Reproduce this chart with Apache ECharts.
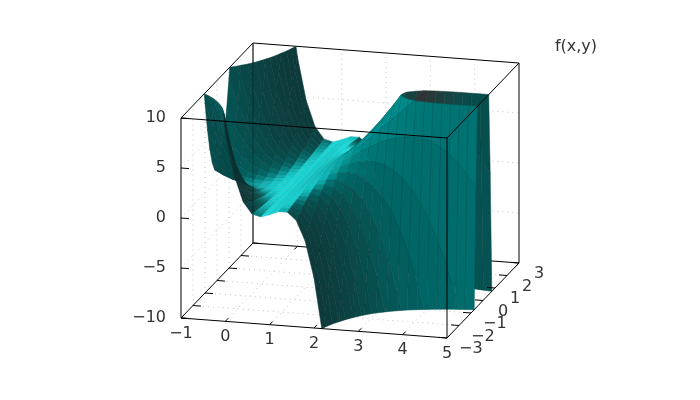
<!DOCTYPE html>
<html>
<head>
<meta charset="utf-8">
<style>html,body{margin:0;padding:0;background:#fff}#c{width:700px;height:400px}</style>
<script src="https://cdn.jsdelivr.net/npm/echarts@6/dist/echarts.min.js"></script>
</head>
<body>
<div id="c"></div>
<script>
const xValues = [-1,-0.8,-0.6,-0.4,-0.2,0,0.2,0.4,0.6,0.8,1,1.2,1.4,1.6,1.8,2,2.2,2.4,2.6,2.8,3,3.2,3.4,3.6,3.8,4,4.2,4.4,4.6,4.8,5];
const yValues = [-3,-2.8,-2.6,-2.4,-2.2,-2,-1.8,-1.6,-1.4,-1.2,-1,-0.8,-0.6,-0.4,-0.2,0,0.2,0.4,0.6,0.8,1,1.2,1.4,1.6,1.8,2,2.2,2.4,2.6,2.8,3];
const zValues = [
[73,63.72,55.08,47.08,39.72,33,26.92,21.48,16.68,12.52,9,6.12,3.88,2.28,1.32,1,1.32,2.28,3.88,6.12,9,12.52,16.68,21.48,26.92,33,39.72,47.08,55.08,63.72,73],
[53.13,46.36,40.06,34.23,28.87,23.97,19.54,15.57,12.07,9.04,6.47,4.37,2.74,1.57,0.87,0.64,0.87,1.57,2.74,4.37,6.47,9.04,12.07,15.57,19.54,23.97,28.87,34.23,40.06,46.36,53.13],
[37.22,32.47,28.05,23.95,20.19,16.74,13.63,10.85,8.39,6.26,4.46,2.98,1.83,1.02,0.52,0.36,0.52,1.02,1.83,2.98,4.46,6.26,8.39,10.85,13.63,16.74,20.19,23.95,28.05,32.47,37.22],
[24.86,21.67,18.71,15.97,13.44,11.14,9.05,7.18,5.54,4.11,2.9,1.92,1.15,0.6,0.27,0.16,0.27,0.6,1.15,1.92,2.9,4.11,5.54,7.18,9.05,11.14,13.44,15.97,18.71,21.67,24.86],
[15.59,13.59,11.72,9.99,8.4,6.95,5.64,4.46,3.43,2.53,1.77,1.15,0.66,0.32,0.11,0.04,0.11,0.32,0.66,1.15,1.77,2.53,3.43,4.46,5.64,6.95,8.4,9.99,11.72,13.59,15.59],
[9,7.84,6.76,5.76,4.84,4,3.24,2.56,1.96,1.44,1,0.64,0.36,0.16,0.04,0,0.04,0.16,0.36,0.64,1,1.44,1.96,2.56,3.24,4,4.84,5.76,6.76,7.84,9],
[4.65,4.05,3.5,2.99,2.52,2.09,1.7,1.35,1.04,0.78,0.55,0.37,0.22,0.12,0.06,0.04,0.06,0.12,0.22,0.37,0.55,0.78,1.04,1.35,1.7,2.09,2.52,2.99,3.5,4.05,4.65],
[2.1,1.85,1.62,1.4,1.21,1.02,0.86,0.71,0.58,0.47,0.38,0.3,0.24,0.19,0.17,0.16,0.17,0.19,0.24,0.3,0.38,0.47,0.58,0.71,0.86,1.02,1.21,1.4,1.62,1.85,2.1],
[0.94,0.86,0.79,0.73,0.67,0.62,0.57,0.52,0.49,0.45,0.42,0.4,0.38,0.37,0.36,0.36,0.36,0.37,0.38,0.4,0.42,0.45,0.49,0.52,0.57,0.62,0.67,0.73,0.79,0.86,0.94],
[0.71,0.7,0.69,0.69,0.68,0.67,0.67,0.66,0.66,0.65,0.65,0.65,0.64,0.64,0.64,0.64,0.64,0.64,0.64,0.65,0.65,0.65,0.66,0.66,0.67,0.67,0.68,0.69,0.69,0.7,0.71],
[1,1,1,1,1,1,1,1,1,1,1,1,1,1,1,1,1,1,1,1,1,1,1,1,1,1,1,1,1,1,1],
[1.37,1.38,1.39,1.39,1.4,1.41,1.41,1.42,1.42,1.43,1.43,1.43,1.44,1.44,1.44,1.44,1.44,1.44,1.44,1.43,1.43,1.43,1.42,1.42,1.41,1.41,1.4,1.39,1.39,1.38,1.37],
[1.38,1.46,1.53,1.59,1.65,1.7,1.75,1.8,1.83,1.87,1.9,1.92,1.94,1.95,1.96,1.96,1.96,1.95,1.94,1.92,1.9,1.87,1.83,1.8,1.75,1.7,1.65,1.59,1.53,1.46,1.38],
[0.62,0.87,1.1,1.32,1.51,1.7,1.86,2.01,2.14,2.25,2.34,2.42,2.48,2.53,2.55,2.56,2.55,2.53,2.48,2.42,2.34,2.25,2.14,2.01,1.86,1.7,1.51,1.32,1.1,0.87,0.62],
[-1.37,-0.77,-0.22,0.29,0.76,1.19,1.58,1.93,2.24,2.5,2.73,2.91,3.06,3.16,3.22,3.24,3.22,3.16,3.06,2.91,2.73,2.5,2.24,1.93,1.58,1.19,0.76,0.29,-0.22,-0.77,-1.37],
[-5,-3.84,-2.76,-1.76,-0.84,0,0.76,1.44,2.04,2.56,3,3.36,3.64,3.84,3.96,4,3.96,3.84,3.64,3.36,3,2.56,2.04,1.44,0.76,0,-0.84,-1.76,-2.76,-3.84,-5],
[-10.71,-8.71,-6.84,-5.11,-3.52,-2.07,-0.76,0.42,1.45,2.35,3.11,3.73,4.22,4.56,4.77,4.84,4.77,4.56,4.22,3.73,3.11,2.35,1.45,0.42,-0.76,-2.07,-3.52,-5.11,-6.84,-8.71,-10.71],
[-18.94,-15.75,-12.79,-10.05,-7.52,-5.22,-3.13,-1.26,0.38,1.81,3.02,4,4.77,5.32,5.65,5.76,5.65,5.32,4.77,4,3.02,1.81,0.38,-1.26,-3.13,-5.22,-7.52,-10.05,-12.79,-15.75,-18.94],
[-30.1,-25.35,-20.93,-16.83,-13.06,-9.62,-6.51,-3.73,-1.27,0.86,2.66,4.14,5.29,6.1,6.6,6.76,6.6,6.1,5.29,4.14,2.66,0.86,-1.27,-3.73,-6.51,-9.62,-13.06,-16.83,-20.93,-25.35,-30.1],
[-44.65,-37.88,-31.58,-25.75,-20.39,-15.49,-11.06,-7.09,-3.59,-0.56,2.01,4.11,5.74,6.91,7.61,7.84,7.61,6.91,5.74,4.11,2.01,-0.56,-3.59,-7.09,-11.06,-15.49,-20.39,-25.75,-31.58,-37.88,-44.65],
[-63,-53.72,-45.08,-37.08,-29.72,-23,-16.92,-11.48,-6.68,-2.52,1,3.88,6.12,7.72,8.68,9,8.68,7.72,6.12,3.88,1,-2.52,-6.68,-11.48,-16.92,-23,-29.72,-37.08,-45.08,-53.72,-63],
[-85.59,-73.24,-61.74,-51.09,-41.3,-32.35,-24.26,-17.02,-10.63,-5.09,-0.41,3.43,6.41,8.54,9.81,10.24,9.81,8.54,6.41,3.43,-0.41,-5.09,-10.63,-17.02,-24.26,-32.35,-41.3,-51.09,-61.74,-73.24,-85.59],
[-112.9,-96.8,-81.9,-68.1,-55.4,-43.7,-33.2,-23.8,-15.54,-8.35,-2.26,2.71,6.58,9.35,11.01,11.56,11.01,9.35,6.58,2.71,-2.26,-8.35,-15.54,-23.8,-33.2,-43.7,-55.4,-68.1,-81.9,-96.8,-112.9],
[-145.2,-124.8,-105.9,-88.3,-72.1,-57.3,-44,-32,-21.49,-12.35,-4.62,1.71,6.63,10.15,12.26,12.96,12.26,10.15,6.63,1.71,-4.62,-12.35,-21.49,-32,-44,-57.3,-72.1,-88.3,-105.9,-124.8,-145.2],
[-183.1,-157.7,-134,-112,-91.8,-73.4,-56.7,-41.8,-28.59,-17.17,-7.51,0.39,6.54,10.93,13.56,14.44,13.56,10.93,6.54,0.39,-7.51,-17.17,-28.59,-41.8,-56.7,-73.4,-91.8,-112,-134,-157.7,-183.1],
[-227,-195.7,-166.5,-139.5,-114.7,-92,-71.5,-53.1,-36.92,-22.88,-11,-1.28,6.28,11.68,14.92,16,14.92,11.68,6.28,-1.28,-11,-22.88,-36.92,-53.1,-71.5,-92,-114.7,-139.5,-166.5,-195.7,-227],
[-277.3,-239.3,-203.9,-171.1,-141,-113.4,-88.5,-66.3,-46.59,-29.55,-15.13,-3.33,5.84,12.4,16.33,17.64,16.33,12.4,5.84,-3.33,-15.13,-29.55,-46.59,-66.3,-88.5,-113.4,-141,-171.1,-203.9,-239.3,-277.3],
[-334.4,-288.8,-246.3,-207,-170.9,-137.9,-108,-81.3,-57.68,-37.24,-19.94,-5.79,5.21,13.07,17.79,19.36,17.79,13.07,5.21,-5.79,-19.94,-37.24,-57.68,-81.3,-108,-137.9,-170.9,-207,-246.3,-288.8,-334.4],
[-398.7,-344.6,-294.2,-247.6,-204.7,-165.5,-130,-98.3,-70.28,-46.02,-25.5,-8.7,4.36,13.69,19.29,21.16,19.29,13.69,4.36,-8.7,-25.5,-46.02,-70.28,-98.3,-130,-165.5,-204.7,-247.6,-294.2,-344.6,-398.7],
[-470.8,-407.2,-347.9,-293,-242.5,-196.5,-154.7,-117.4,-84.51,-55.98,-31.83,-12.08,3.29,14.26,20.85,23.04,20.85,14.26,3.29,-12.08,-31.83,-55.98,-84.51,-117.4,-154.7,-196.5,-242.5,-293,-347.9,-407.2,-470.8],
[-551,-476.8,-407.6,-343.6,-284.8,-231,-182.4,-138.8,-100.4,-67.16,-39,-15.96,1.96,14.76,22.44,25,22.44,14.76,1.96,-15.96,-39,-67.16,-100.4,-138.8,-182.4,-231,-284.8,-343.6,-407.6,-476.8,-551]
];
const xTicks = [-1,0,1,2,3,4,5];
const yTicks = [-3,-2,-1,0,1,2,3];
const zTicks = [-10,-5,0,5,10];
const xRange = [-1,5], yRange = [-3,3], zRange = [-10,10];
const axisTitle = 'f(x,y)';

const FONT = '"DejaVu Sans"';
const fmt = v => (v < 0 ? '\u2212' + (-v) : '' + v);

// orthographic box projection (screen vectors of the plot box)
const O = [181,318], VX = [266,20], VY = [72,-75], VZ = [0,-200];
const ux = v => (v[0]-xRange[0])/(xRange[1]-xRange[0]);
const uy = v => (v[1]-yRange[0])/(yRange[1]-yRange[0]);
const uz = v => (v[2]-zRange[0])/(zRange[1]-zRange[0]);
const proj = p => [O[0]+ux(p)*VX[0]+uy(p)*VY[0]+uz(p)*VZ[0], O[1]+ux(p)*VX[1]+uy(p)*VY[1]+uz(p)*VZ[1]];
// view basis in box units
const ZS = 0.755;
const U = [0.9655,0.2605,0], V = [-0.0727,0.269,0.96], W = [0.25,-0.927,0.279];
const dot = (a,b)=>a[0]*b[0]+a[1]*b[1]+a[2]*b[2];
const box = p => [ux(p),uy(p),uz(p)*ZS];
const HALF = [-0.2,0.98,0];
const clamp01 = v => Math.max(0,Math.min(1,v));

function clipZ(poly){
  let out = poly;
  for (const [lim,sgn] of [[zRange[0],1],[zRange[1],-1]]) {
    const res = [];
    for (let i=0;i<out.length;i++){
      const a = out[i], b = out[(i+1)%out.length];
      const ia = (a[2]-lim)*sgn >= 0, ib = (b[2]-lim)*sgn >= 0;
      if (ia) res.push(a);
      if (ia !== ib){
        const t = (lim-a[2])/(b[2]-a[2]);
        res.push([a[0]+t*(b[0]-a[0]),a[1]+t*(b[1]-a[1]),lim]);
      }
    }
    out = res;
    if (!out.length) break;
  }
  return out;
}
function shade(c){
  const A=box(c[0]),B=box(c[1]),C=box(c[2]),D=box(c[3]);
  const d1=[C[0]-A[0],C[1]-A[1],C[2]-A[2]], d2=[D[0]-B[0],D[1]-B[1],D[2]-B[2]];
  let n=[d1[1]*d2[2]-d1[2]*d2[1],d1[2]*d2[0]-d1[0]*d2[2],d1[0]*d2[1]-d1[1]*d2[0]];
  const len=Math.hypot(n[0],n[1],n[2])||1; n=n.map(v=>v/len);
  if (n[2]<0) n=n.map(v=>-v);
  const under = dot(n,W)<0;
  if (under) n=n.map(v=>-v);
  const nv=[dot(n,U),dot(n,V),dot(n,W)];
  const h=Math.max(0,dot(nv,HALF));
  let g = 0.40-0.2*nv[0]+0.52*Math.pow(h,10);
  let r = 0.15*Math.pow(h,14)+0.06*Math.max(nv[0],0);
  if (under) {
    const t=clamp01((-nv[1]-0.35)/0.15)*clamp01((nv[2]-0.6)/0.2);
    const k=clamp01((-nv[1]-0.15)/0.2);
    g=0.40-0.1*k-0.1*t; r=0.03*k+0.15*t;
  }
  const to=v=>Math.round(Math.min(1,v)*255);
  return {fill:'rgb('+to(r)+','+to(g)+','+to(g)+')',edge:'rgb('+to(r*0.85)+','+to(g*0.86)+','+to(g*0.86)+')'};
}
const facets=[];
for(let i=0;i<xValues.length-1;i++)for(let j=0;j<yValues.length-1;j++){
  const c=[[xValues[i],yValues[j],zValues[i][j]],[xValues[i+1],yValues[j],zValues[i+1][j]],
           [xValues[i+1],yValues[j+1],zValues[i+1][j+1]],[xValues[i],yValues[j+1],zValues[i][j+1]]];
  const poly=clipZ(c);
  if(poly.length<3)continue;
  let depth=0; for(const p of poly) depth+=dot(box(p),W); depth/=poly.length;
  facets.push({poly,depth,color:shade(c)});
}
facets.sort((a,b)=>a.depth-b.depth);

// box edges, grid lines, ticks: [from, to] in data coordinates
const [x0,x1]=xRange,[y0,y1]=yRange,[z0,z1]=zRange;
const backEdges=[[[x0,y1,z0],[x0,y1,z1]],[[x0,y1,z1],[x1,y1,z1]],[[x0,y1,z0],[x1,y1,z0]],[[x1,y1,z0],[x1,y1,z1]]];
const frontEdges=[[[x0,y0,z0],[x0,y0,z1]],[[x1,y0,z0],[x1,y0,z1]],[[x0,y0,z1],[x1,y0,z1]],[[x0,y0,z0],[x1,y0,z0]],
  [[x0,y0,z1],[x0,y1,z1]],[[x1,y0,z1],[x1,y1,z1]],[[x0,y0,z0],[x0,y1,z0]],[[x1,y0,z0],[x1,y1,z0]]];
const ghostEdges=[[[x0,y1,z0],[x0,y1,z1]]];
const gridLines=[], tickLines=[], backTicks=[];
xTicks.forEach(x=>{ if(x>x0&&x<x1){
  gridLines.push([[x,y0,z0],[x,y1,z0]],[[x,y1,z0],[x,y1,z1]]);}
  tickLines.push([[x,y0,z0],[x,y0+0.25,z0]]);
  backTicks.push([[x,y1,z0],[x,y1-0.25,z0]]);
});
yTicks.forEach(y=>{ if(y>y0&&y<y1){
  gridLines.push([[x0,y,z0],[x1,y,z0]],[[x0,y,z0],[x0,y,z1]]);}
  tickLines.push([[x0,y,z0],[x0+0.18,y,z0]],[[x1,y,z0],[x1-0.18,y,z0]]);
});
zTicks.forEach(z=>{ if(z>z0&&z<z1){
  gridLines.push([[x0,y0,z],[x0,y1,z]],[[x0,y1,z],[x1,y1,z]]);}
  tickLines.push([[x0,y0,z],[x0+0.18,y0,z]]);
});

const lineSeries=(name,data,style,z)=>({
  name,type:'custom',coordinateSystem:'cartesian2d',silent:true,z,clip:false,
  data:data.map((_,i)=>[i]),
  renderItem(params,api){
    const s=data[params.dataIndex];
    const a=api.coord(proj(s[0])),b=api.coord(proj(s[1]));
    return {type:'line',shape:{x1:a[0],y1:a[1],x2:b[0],y2:b[1]},style:Object.assign({fill:null},style)};
  }
});
const labels=[];
xTicks.forEach(x=>labels.push({text:fmt(x),at:[x,y0,z0],dx:0,dy:15.5,align:'center'}));
yTicks.forEach(y=>labels.push({text:fmt(y),at:[x1,y,z0],dx:y<0?12:15,dy:11,align:'left'}));
zTicks.forEach(z=>labels.push({text:fmt(z),at:[x0,y0,z],dx:-15,dy:0,align:'right'}));
labels.push({text:axisTitle,at:[x1,y1,z1],dx:57,dy:-16,align:'center'});

const option={
  animation:false,
  backgroundColor:'#fff',
  grid:{left:0,right:0,top:0,bottom:0},
  xAxis:{type:'value',min:0,max:700,show:false},
  yAxis:{type:'value',min:0,max:400,inverse:true,show:false},
  series:[
    lineSeries('grid',gridLines,{stroke:'#c4c4c4',lineWidth:1,lineDash:[1,4]},1),
    lineSeries('back',backEdges.concat(backTicks),{stroke:'#000',lineWidth:1},2),
    {name:'surface',type:'custom',coordinateSystem:'cartesian2d',silent:true,z:3,progressive:0,clip:false,
     data:facets.map((_,i)=>[i]),
     renderItem(params,api){
       const f=facets[params.dataIndex];
       return {type:'polygon',shape:{points:f.poly.map(p=>api.coord(proj(p)))},
         style:{fill:f.color.fill,stroke:f.color.edge,lineWidth:0.5}};
     }},
    lineSeries('ghost',ghostEdges,{stroke:'rgba(0,0,0,0.3)',lineWidth:1},4),
    lineSeries('front',frontEdges,{stroke:'#000',lineWidth:1},5),
    lineSeries('ticks',tickLines,{stroke:'#000',lineWidth:1},5),
    {name:'labels',type:'custom',coordinateSystem:'cartesian2d',silent:true,z:6,clip:false,
     data:labels.map((_,i)=>[i]),
     renderItem(params,api){
       const l=labels[params.dataIndex], c=api.coord(proj(l.at));
       return {type:'text',x:c[0]+l.dx,y:c[1]+l.dy,style:{text:l.text,font:'16px '+FONT,fill:'#333',align:l.align,verticalAlign:'middle'}};
     }}
  ]
};
echarts.init(document.getElementById('c'),null,{renderer:'canvas'}).setOption(option);
</script>
</body>
</html>
